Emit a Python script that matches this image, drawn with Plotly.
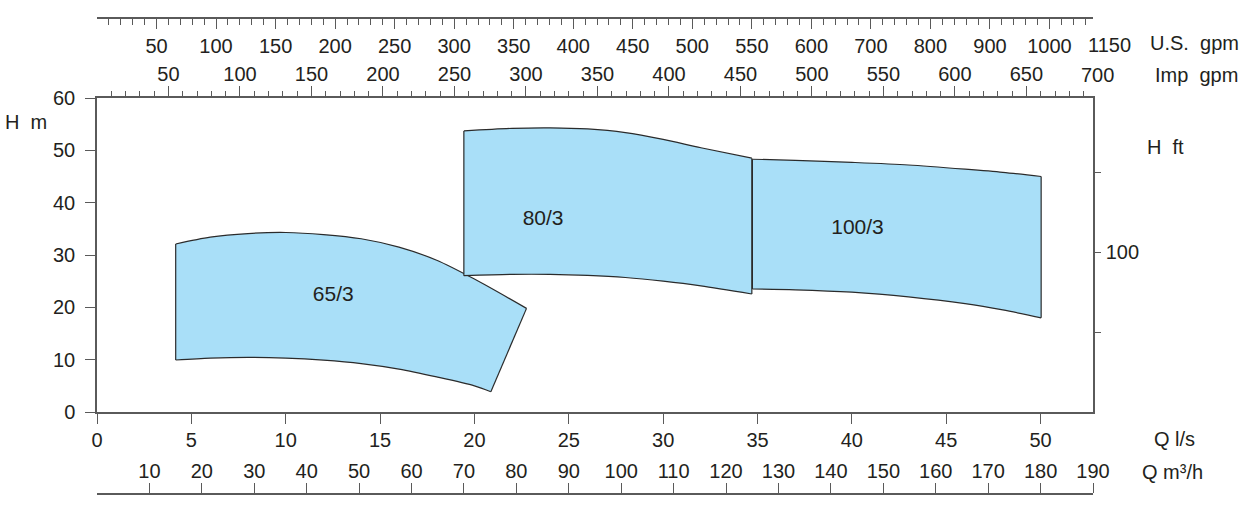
import plotly.graph_objects as go

# ---------------- data ----------------
# Q in l/s, H in m
p65_top_q = [4.17, 6.0, 8.0, 10.0, 12.0, 14.0, 16.0, 18.0, 20.0, 22.76]
p65_top_h = [32.1, 33.4, 34.1, 34.3, 33.9, 33.1, 31.5, 29.0, 25.4, 19.8]
p65_bot_q = [4.17, 6.0, 8.0, 10.0, 12.0, 14.0, 16.0, 18.0, 20.0, 20.87]
p65_bot_h = [9.94, 10.3, 10.45, 10.3, 9.9, 9.25, 8.2, 6.7, 5.0, 3.88]

p80_top_q = [19.44, 22.0, 24.0, 26.0, 28.0, 30.0, 32.0, 34.7]
p80_top_h = [53.7, 54.2, 54.3, 54.1, 53.4, 52.1, 50.5, 48.5]
p80_bot_q = [19.44, 22.0, 24.0, 26.0, 28.0, 30.0, 32.0, 34.7]
p80_bot_h = [26.05, 26.3, 26.3, 26.1, 25.7, 25.0, 24.1, 22.55]

p100_top_q = [34.73, 37.0, 40.0, 43.0, 46.0, 48.0, 50.03]
p100_top_h = [48.3, 48.1, 47.7, 47.2, 46.4, 45.8, 45.0]
p100_bot_q = [34.73, 37.0, 40.0, 43.0, 46.0, 48.0, 50.03]
p100_bot_h = [23.5, 23.35, 22.9, 22.0, 20.7, 19.5, 18.0]

pump_names = ["65/3", "80/3", "100/3"]
label_q = [12.52, 23.64, 40.3]
label_h = [22.2, 36.7, 35.1]

# axis ticks
ls_ticks = [0, 5, 10, 15, 20, 25, 30, 35, 40, 45, 50]
h_ticks = [0, 10, 20, 30, 40, 50, 60]
m3h_ticks = [10, 20, 30, 40, 50, 60, 70, 80, 90, 100, 110, 120, 130, 140, 150, 160, 170, 180, 190]
imp_major = [50, 100, 150, 200, 250, 300, 350, 400, 450, 500, 550, 600, 650]
imp_minor = [v for v in range(10, 700, 10)]
imp_extra_label = 700
us_major = [50, 100, 150, 200, 250, 300, 350, 400, 450, 500, 550, 600, 650, 700, 750, 800]
us_major_text = ["50", "100", "150", "200", "250", "300", "350", "400", "450", "500",
                 "550", "600", "700", "800", "900", "1000"]
us_minor = [v for v in range(10, 840, 10)]
us_extra_pos = 850
us_extra_label = "1150"
ft_ticks = [50, 100, 150]
ft_text = ["", "100", ""]

Q_MAX_M3H = 190.0
Q_MAX_LS = Q_MAX_M3H / 3.6
IMP_PER_LS = 60 / 4.54609
US_PER_LS = 60 / 3.785411784
M_PER_FT = 0.3048
H_MAX = 60

# ---------------- layout geometry ----------------
W, H = 1252, 511
ML, MR, MT, MB = 97, 159, 10, 10
PH = H - MT - MB
def py(p):  # pixel y -> paper fraction
    return (H - MB - p) / PH
def px(p):
    return (p - ML) / (W - ML - MR)

AX = "#5a5a5a"
TXT = "#231f20"
FONT = "Liberation Sans, Arial, Helvetica, sans-serif"
FS = 20
FILL = "#a9dff8"
EDGE = "#2b2b2b"

fig = go.Figure()

pumps = [(p65_top_q, p65_top_h, p65_bot_q, p65_bot_h),
         (p80_top_q, p80_top_h, p80_bot_q, p80_bot_h),
         (p100_top_q, p100_top_h, p100_bot_q, p100_bot_h)]

for (tq, th, bq, bh) in pumps:
    # lower curve, then upper curve filled down to it (the fill closes with the side edges)
    fig.add_trace(go.Scatter(x=bq, y=bh, mode="lines",
                             line=dict(color=EDGE, width=1.2, shape="spline", smoothing=0.8),
                             showlegend=False, hoverinfo="skip"))
    fig.add_trace(go.Scatter(x=tq, y=th, mode="lines", fill="tonexty", fillcolor=FILL,
                             line=dict(color=EDGE, width=1.2, shape="spline", smoothing=0.8),
                             showlegend=False, hoverinfo="skip"))
# side edges
for (tq, th, bq, bh) in pumps:
    for i_t, i_b in [(0, 0), (-1, -1)]:
        fig.add_trace(go.Scatter(x=[tq[i_t], bq[i_b]], y=[th[i_t], bh[i_b]], mode="lines",
                                 line=dict(color=EDGE, width=1.2),
                                 showlegend=False, hoverinfo="skip"))

fig.add_trace(go.Scatter(x=label_q, y=label_h, mode="text", text=pump_names,
                         textfont=dict(family=FONT, size=21, color=TXT),
                         showlegend=False, hoverinfo="skip"))

# dummy traces for secondary axes
for xa, ya in [("x2", "y"), ("x3", "y"), ("x4", "y"), ("x", "y2")]:
    fig.add_trace(go.Scatter(x=[None], y=[None], xaxis=xa, yaxis=ya, showlegend=False,
                             hoverinfo="skip", mode="markers"))

common = dict(showgrid=False, zeroline=False, showline=True, linecolor=AX, linewidth=1.5,
              tickcolor=AX, tickwidth=1.3, tickfont=dict(family=FONT, size=FS, color=TXT),
              fixedrange=True, automargin=False)

fig.update_layout(
    template="none",
    width=W, height=H,
    margin=dict(l=ML, r=MR, t=MT, b=MB, autoexpand=False),
    paper_bgcolor="white", plot_bgcolor="white",
    xaxis=dict(domain=[0, 1], anchor="y", side="bottom", range=[0, Q_MAX_LS],
               tickmode="array", tickvals=ls_ticks, ticks="outside", ticklen=10,
               ticklabelstandoff=-1, **common),
    yaxis=dict(domain=[py(412), py(98)], anchor="x", range=[0, H_MAX],
               tickmode="array", tickvals=h_ticks, ticks="outside", ticklen=10,
               ticklabelstandoff=6, **common),
    xaxis2=dict(overlaying="x", anchor="y", side="top", range=[0, Q_MAX_LS * IMP_PER_LS],
                tickmode="array", tickvals=imp_major, ticks="outside", ticklen=10,
                minor=dict(tickmode="array", tickvals=imp_minor, ticks="outside", ticklen=5,
                           tickcolor=AX, tickwidth=1.2),
                ticklabelstandoff=-3, **common),
    xaxis3=dict(overlaying="x", anchor="free", position=py(18), side="bottom",
                range=[0, Q_MAX_LS * US_PER_LS],
                tickmode="array", tickvals=us_major, ticktext=us_major_text,
                ticks="outside", ticklen=10,
                minor=dict(tickmode="array", tickvals=us_minor, ticks="outside", ticklen=6,
                           tickcolor=AX, tickwidth=1.2),
                ticklabelstandoff=0, **common),
    xaxis4=dict(overlaying="x", anchor="free", position=py(494), side="top",
                range=[0, Q_MAX_M3H], tickmode="array", tickvals=m3h_ticks,
                ticks="outside", ticklen=10, ticklabelstandoff=-3, **common),
    yaxis2=dict(overlaying="y", anchor="x", side="right", range=[0, H_MAX / M_PER_FT],
                tickmode="array", tickvals=ft_ticks, ticktext=ft_text,
                ticks="outside", ticklen=6, ticklabelstandoff=1, **common),
)

def lab(text, xpix, ypix, xanchor="left"):
    fig.add_annotation(text=text, xref="paper", yref="paper", x=px(xpix), y=py(ypix),
                       xanchor=xanchor, yanchor="middle", showarrow=False,
                       font=dict(family=FONT, size=FS, color=TXT))

lab("U.S.\u00a0 gpm", 1148, 43)
lab("Imp\u00a0 gpm", 1153, 75)
lab("H\u00a0 m", 3, 122)
lab("H\u00a0 ft", 1145, 147)
lab("Q l/s", 1152, 439)
lab("Q m\u00b3/h", 1140, 472)

# labels that sit just beyond the end of their scales
fig.add_annotation(text=str(imp_extra_label), xref="x2 domain", yref="paper",
                   x=imp_extra_label / (Q_MAX_LS * IMP_PER_LS), y=py(75),
                   xanchor="center", yanchor="middle", showarrow=False,
                   font=dict(family=FONT, size=FS, color=TXT))
fig.add_annotation(text=us_extra_label, xref="x3 domain", yref="paper",
                   x=us_extra_pos / (Q_MAX_LS * US_PER_LS), y=py(45),
                   xanchor="center", yanchor="middle", showarrow=False,
                   font=dict(family=FONT, size=FS, color=TXT))

fig.write_html("out.html", config={"displayModeBar": False},
               post_script="document.body.style.margin='0';")
